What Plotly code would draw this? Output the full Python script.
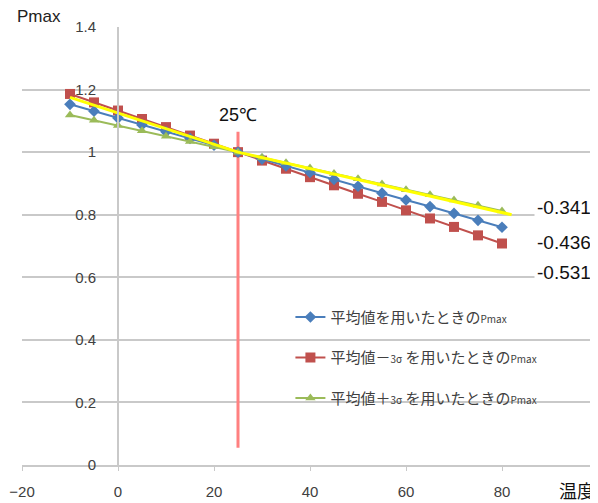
import plotly.graph_objects as go

# ---- data ----
temps = [-10, -5, 0, 5, 10, 15, 20, 25, 30, 35, 40, 45, 50, 55, 60, 65, 70, 75, 80]
pmax_mean = [1.153, 1.131, 1.109, 1.087, 1.065, 1.044, 1.022, 1.000, 0.978, 0.956,
             0.935, 0.913, 0.891, 0.869, 0.847, 0.826, 0.804, 0.782, 0.760]
pmax_minus3s = [1.186, 1.159, 1.133, 1.106, 1.080, 1.053, 1.027, 1.000, 0.973, 0.947,
                0.920, 0.894, 0.867, 0.841, 0.814, 0.788, 0.761, 0.734, 0.708]
pmax_plus3s = [1.119, 1.102, 1.085, 1.068, 1.051, 1.034, 1.017, 1.000, 0.983, 0.966,
               0.949, 0.932, 0.915, 0.898, 0.880, 0.864, 0.847, 0.830, 0.812]
yellow_x = [-10, 25, 82]
yellow_y = [1.175, 1.000, 0.800]
ref_temp_x = [25, 25]
ref_temp_y = [0.055, 1.065]
coef_labels = ["-0.341", "-0.436", "-0.531"]
coef_label_y = [0.822, 0.710, 0.614]
x_ticks = [-20, 0, 20, 40, 60, 80]
y_ticks = [0, 0.2, 0.4, 0.6, 0.8, 1.0, 1.2, 1.4]
y_ticklabels = ["0", "0.2", "0.4", "0.6", "0.8", "1", "1.2", "1.4"]

names = [
    '平均値を用いたときの<span style="font-size:10px">Pmax</span>',
    '平均値－<span style="font-size:10px">3σ</span> を用いたときの<span style="font-size:10px">Pmax</span>',
    '平均値＋<span style="font-size:10px">3σ</span> を用いたときの<span style="font-size:10px">Pmax</span>',
]

BLUE = "#4A7EBB"
RED = "#C0504D"
GREEN = "#9BBB59"
GRID = "#C9C9C9"

fig = go.Figure()

fig.add_trace(go.Scatter(
    x=ref_temp_x, y=ref_temp_y, mode="lines",
    line=dict(color="#FF8080", width=3), showlegend=False, hoverinfo="skip"))

fig.add_trace(go.Scatter(
    x=temps, y=pmax_minus3s, mode="lines+markers", name=names[1],
    legendgroup="b", legendrank=2,
    line=dict(color=RED, width=2),
    marker=dict(symbol="square", size=10, color=RED)))
fig.add_trace(go.Scatter(
    x=temps, y=pmax_mean, mode="lines+markers", name=names[0],
    legendgroup="a", legendrank=1,
    line=dict(color=BLUE, width=2),
    marker=dict(symbol="diamond", size=9, color=BLUE)))
fig.add_trace(go.Scatter(
    x=temps, y=pmax_plus3s, mode="lines+markers", name=names[2],
    legendgroup="c", legendrank=3,
    line=dict(color=GREEN, width=2),
    marker=dict(symbol="triangle-up", size=9, color=GREEN)))
fig.add_trace(go.Scatter(
    x=yellow_x, y=yellow_y, mode="lines",
    line=dict(color="#FFFF00", width=3), showlegend=False, hoverinfo="skip"))

annotations = [
    dict(text="Pmax", x=-0.012, y=1.023, xref="paper", yref="paper",
         xanchor="left", yanchor="middle", showarrow=False,
         font=dict(size=17, color="#222222", family="Liberation Sans")),
    dict(text="25℃", x=25, y=1.12, xref="x", yref="y", showarrow=False,
         font=dict(size=18, color="#111111", family="Liberation Sans")),
    dict(text="温度", x=0.998, y=-0.057, xref="paper", yref="paper",
         xanchor="right", yanchor="middle", showarrow=False,
         font=dict(size=18, color="#111111", family="Noto Sans CJK JP")),
]
for lab, yy in zip(coef_labels, coef_label_y):
    annotations.append(dict(
        text=lab, x=86.6, y=yy, xref="x", yref="y", xanchor="left",
        yanchor="middle", showarrow=False, bgcolor="white", borderpad=2,
        font=dict(size=19, color="#111111", family="Liberation Sans")))

fig.update_layout(
    width=590, height=495,
    margin=dict(l=14, r=0, t=19, b=38),
    paper_bgcolor="white", plot_bgcolor="white",
    font=dict(family="Noto Sans CJK JP", color="#404040"),
    showlegend=True,
    legend=dict(x=0.466, y=0.375, xanchor="left", yanchor="top",
                bgcolor="rgba(0,0,0,0)", traceorder="grouped",
                tracegroupgap=18, font=dict(size=15, color="#404040")),
    annotations=annotations,
    shapes=[dict(type="rect", xref="paper", yref="paper",
                 x0=-0.025, x1=0.088, y0=0.985, y1=1.06,
                 fillcolor="white", line=dict(width=0), layer="above")],
)

fig.update_xaxes(
    range=[-20, 100], tickvals=x_ticks, showgrid=False, zeroline=False,
    showline=True, linecolor=GRID, linewidth=2,
    ticks="outside", ticklen=4, tickcolor=GRID, tickwidth=1,
    ticklabelstandoff=8,
    tickfont=dict(size=15, color="#404040", family="Liberation Sans"))

fig.update_yaxes(
    range=[0, 1.4], tickvals=y_ticks, ticktext=y_ticklabels,
    anchor="free", position=96 / 576,
    showgrid=True, gridcolor=GRID, gridwidth=2, zeroline=False,
    showline=True, linecolor=GRID, linewidth=2,
    ticks="", ticklabelstandoff=18,
    tickfont=dict(size=15, color="#404040", family="Liberation Sans"))

fig.write_html("out.html")
